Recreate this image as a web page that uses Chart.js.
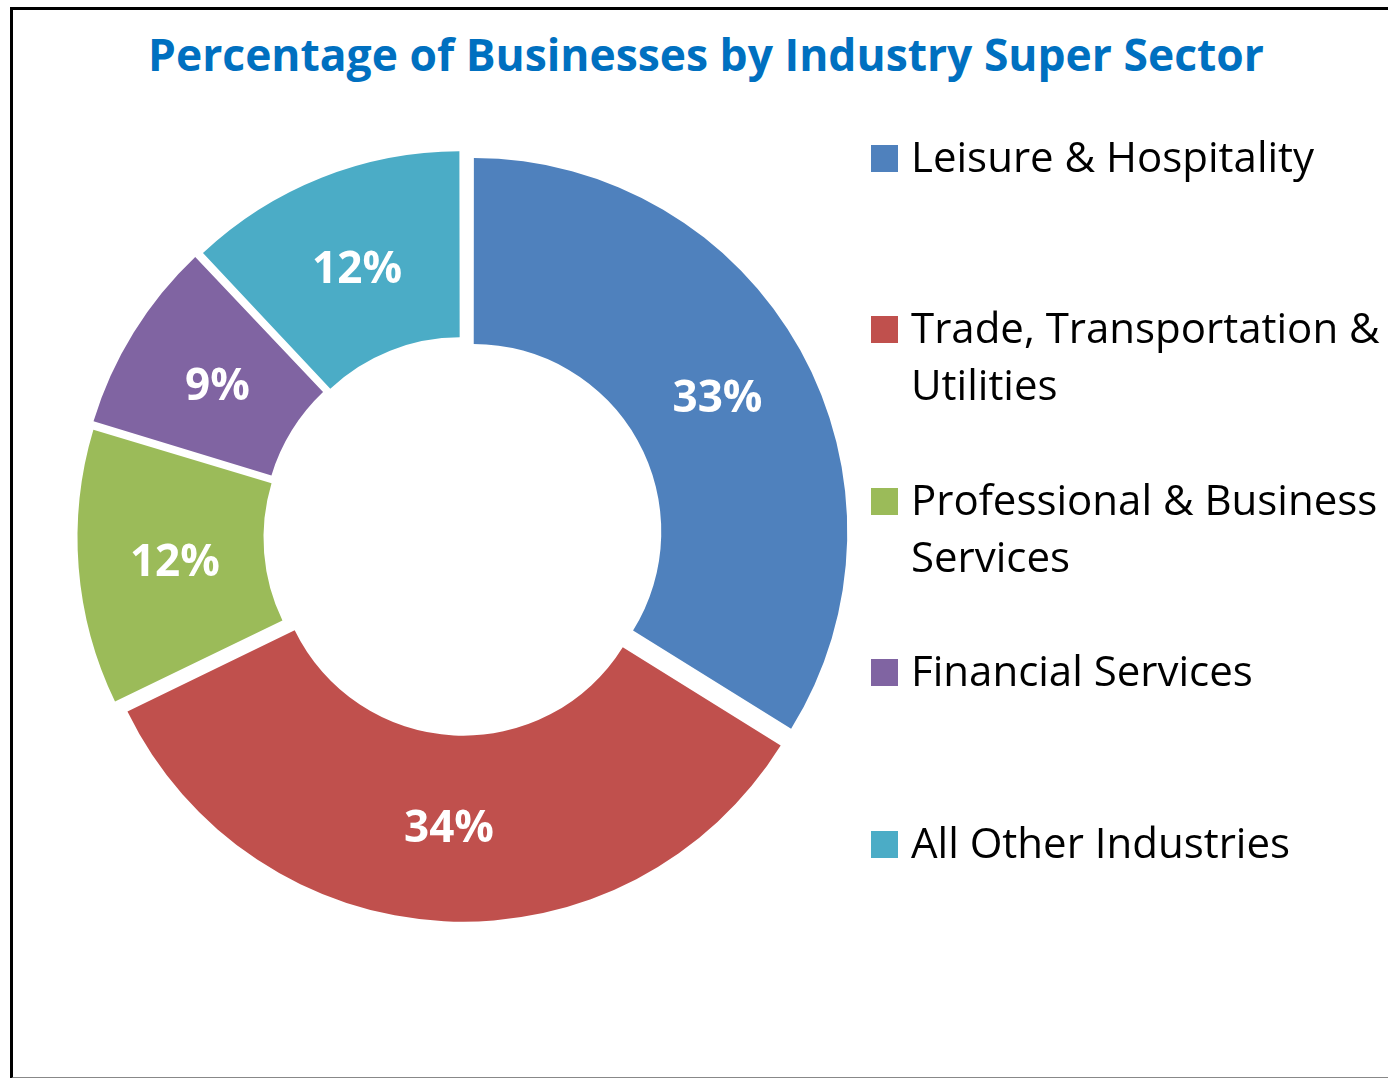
<!DOCTYPE html>
<html>
<head>
<meta charset="utf-8">
<script src="https://cdn.jsdelivr.net/npm/chart.js@4.4.1/dist/chart.umd.min.js"></script>
<style>
    html, body {
        margin: 0;
        padding: 0;
        width: 1388px;
        height: 1078px;
        overflow: hidden;
        background: #fff;
        font-family: 'Open Sans', sans-serif;
    }
    .frame {
        position: absolute;
        left: 10px;
        top: 7px;
        width: 1400px;
        height: 1067px;
        border-left: 3px solid #000;
        border-top: 3px solid #000;
        border-bottom: 2px solid #888;
    }
    .chart-title {
        position: absolute;
        left: 0;
        top: 24px;
        width: 1412px;
        text-align: center;
        color: #0070C0;
        font-weight: 700;
        font-size: 44.4px;
        line-height: 60px;
        white-space: nowrap;
    }
    #chartCanvas {
        position: absolute;
        left: 0;
        top: 0;
    }
    #custom-legend {
        position: absolute;
        left: 871px;
        top: 127px;
        width: 517px;
    }
    .legend-item {
        position: relative;
        height: 171.4px;
        padding-left: 40px;
        font-size: 42px;
        line-height: 57px;
        color: #000;
    }
    .legend-item_box {
        position: absolute;
        left: 0;
        top: 18px;
        width: 27px;
        height: 27px;
    }
</style>
</head>
<body>
<div class="frame"></div>
<div class="chart-title">Percentage of Businesses by Industry Super Sector</div>
<canvas id="chartCanvas" width="1388" height="1078"></canvas>
<div id="custom-legend"></div>
<script>
// Chart data
const sectorNames = ['Leisure & Hospitality', 'Trade, Transportation & Utilities', 'Professional & Business Services', 'Financial Services', 'All Other Industries'];
// Slice shares as measured from the slice angles
const sectorShares = [33.85, 33.95, 11.87, 8.31, 12.02];
// Percent labels as printed on the slices
const sectorPercentLabels = ['33%', '34%', '12%', '9%', '12%'];
const sectorColors = ['#4F81BD', '#C0504D', '#9BBB59', '#8064A2', '#4BACC6'];

// Chart.js moves a slice by offset / 4, so 44 gives an 11px explode
const sliceOffset = 44;

// Small plugin to write the percentage in the middle of each slice
const sliceLabels = {
    id: 'sliceLabels',
    afterDatasetsDraw(chart) {
        const ctx = chart.ctx;
        const meta = chart.getDatasetMeta(0);
        ctx.save();
        ctx.font = 'bold 44px "Open Sans"';
        ctx.fillStyle = '#fff';
        ctx.textAlign = 'center';
        ctx.textBaseline = 'middle';
        meta.data.forEach((arc, index) => {
            const mid = (arc.startAngle + arc.endAngle) / 2;
            const r = sliceOffset / 4 + (arc.innerRadius + arc.outerRadius) / 2;
            ctx.fillText(sectorPercentLabels[index], arc.x + Math.cos(mid) * r, arc.y + Math.sin(mid) * r + 3);
        });
        ctx.restore();
    }
};

const canvas = document.getElementById('chartCanvas');
const ctx = canvas.getContext('2d');

let donutChart = new Chart(ctx, {
    type: 'doughnut',
    plugins: [sliceLabels],
    data: {
        labels: [...sectorNames],
        datasets: [{
            data: [...sectorShares],
            backgroundColor: [...sectorColors],
            borderWidth: 0,
            offset: sliceOffset,
            hoverOffset: 0,
        }],
    },
    options: {
        responsive: false,
        animation: false,
        cutout: '50%',
        layout: {
            padding: { left: 70, top: 143, right: 530, bottom: 147 },
        },
        plugins: {
            legend: { display: false },
            tooltip: { enabled: false },
        },
        events: [],
    },
});

// Custom legend creation
const legendContainer = document.getElementById('custom-legend');
sectorNames.forEach((name, index) => {
    const legendItem = document.createElement('div');
    legendItem.className = 'legend-item';
    const colorBox = document.createElement('span');
    colorBox.className = 'legend-item_box';
    colorBox.style.backgroundColor = sectorColors[index];
    const label = document.createElement('span');
    label.textContent = name;
    legendItem.appendChild(colorBox);
    legendItem.appendChild(label);
    legendContainer.appendChild(legendItem);
});
</script>
</body>
</html>
